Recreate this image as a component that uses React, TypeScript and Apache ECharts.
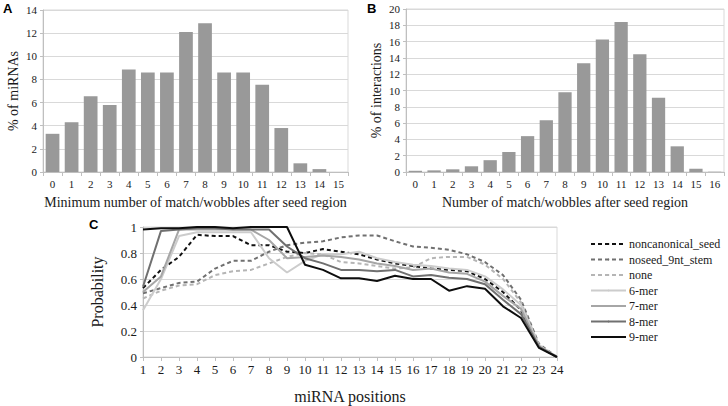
import React, { useEffect, useRef } from 'react';
import * as echarts from 'echarts';

const catsA = ['0', '1', '2', '3', '4', '5', '6', '7', '8', '9', '10', '11', '12', '13', '14', '15'];
const valuesA = [3.3, 4.3, 6.55, 5.8, 8.85, 8.6, 8.6, 12.1, 12.85, 8.6, 8.6, 7.55, 3.8, 0.75, 0.25, 0];

const catsB = ['0', '1', '2', '3', '4', '5', '6', '7', '8', '9', '10', '11', '12', '13', '14', '15', '16'];
const valuesB = [0.15, 0.2, 0.33, 0.7, 1.45, 2.45, 4.4, 6.35, 9.8, 13.35, 16.25, 18.4, 14.45, 9.1, 3.15, 0.4, 0.03];

const positions = ['1', '2', '3', '4', '5', '6', '7', '8', '9', '10', '11', '12', '13', '14', '15', '16', '17', '18', '19', '20', '21', '22', '23', '24'];
const noncanonicalSeed = [0.53, 0.67, 0.77, 0.94, 0.93, 0.93, 0.86, 0.86, 0.81, 0.8, 0.83, 0.81, 0.79, 0.75, 0.72, 0.7, 0.68, 0.67, 0.66, 0.6, 0.5, 0.36, 0.08, 0.0];
const noseed9ntStem = [0.49, 0.53, 0.57, 0.58, 0.68, 0.74, 0.74, 0.81, 0.86, 0.88, 0.89, 0.92, 0.935, 0.935, 0.89, 0.85, 0.84, 0.825, 0.79, 0.73, 0.63, 0.44, 0.1, 0.0];
const none = [0.45, 0.51, 0.55, 0.56, 0.63, 0.66, 0.67, 0.72, 0.77, 0.8, 0.79, 0.73, 0.72, 0.7, 0.68, 0.69, 0.76, 0.77, 0.77, 0.71, 0.6, 0.42, 0.09, 0.0];
const mer6 = [0.36, 0.6, 0.93, 0.96, 0.96, 0.96, 0.96, 0.76, 0.65, 0.74, 0.79, 0.79, 0.81, 0.76, 0.73, 0.71, 0.7, 0.68, 0.67, 0.62, 0.52, 0.4, 0.09, 0.0];
const mer7 = [0.5, 0.62, 0.98, 0.98, 0.98, 0.98, 0.98, 0.9, 0.76, 0.77, 0.78, 0.77, 0.75, 0.72, 0.7, 0.67, 0.68, 0.65, 0.64, 0.58, 0.47, 0.37, 0.08, 0.0];
const mer8 = [0.54, 0.97, 0.98, 0.99, 0.99, 0.98, 0.98, 0.98, 0.85, 0.76, 0.72, 0.67, 0.67, 0.66, 0.67, 0.62, 0.63, 0.61, 0.6, 0.56, 0.44, 0.33, 0.08, 0.0];
const mer9 = [0.98, 0.99, 0.99, 1.0, 1.0, 0.99, 1.0, 1.0, 1.0, 0.71, 0.67, 0.605, 0.605, 0.585, 0.625, 0.6, 0.6, 0.51, 0.545, 0.525, 0.39, 0.3, 0.07, 0.0];

const SERIF = 'Liberation Serif';
const SANS = 'Liberation Sans';
const AXIS_COLOR = '#bfbfbf';
const GRID_COLOR = '#d9d9d9';
const TEXT_COLOR = '#1a1a1a';

const lineDefs = [
  { name: 'noncanonical_seed', data: noncanonicalSeed, color: '#111111', type: [4, 3] as any, width: 2 },
  { name: 'noseed_9nt_stem', data: noseed9ntStem, color: '#707070', type: [4, 3] as any, width: 2 },
  { name: 'none', data: none, color: '#b5b5b5', type: [4, 3] as any, width: 2 },
  { name: '6-mer', data: mer6, color: '#cccccc', type: 'solid', width: 2 },
  { name: '7-mer', data: mer7, color: '#a6a6a6', type: 'solid', width: 2 },
  { name: '8-mer', data: mer8, color: '#707070', type: 'solid', width: 2 },
  { name: '9-mer', data: mer9, color: '#0d0d0d', type: 'solid', width: 2 },
];

function catAxis(idx: number, data: string[], name: string, fontSize: number, nameSize: number, nameGap: number, boundaryGap: boolean) {
  return {
    type: 'category',
    gridIndex: idx,
    data,
    boundaryGap,
    name,
    nameLocation: 'middle',
    nameGap,
    nameTextStyle: { fontFamily: SERIF, fontSize: nameSize, color: TEXT_COLOR },
    axisLine: { lineStyle: { color: AXIS_COLOR, width: 1 } },
    axisTick: { show: true, length: 4, alignWithLabel: !boundaryGap, lineStyle: { color: AXIS_COLOR } },
    axisLabel: { fontFamily: SERIF, fontSize, color: TEXT_COLOR, margin: 6, interval: 0 },
    splitLine: { show: false },
  };
}

function valAxis(idx: number, max: number, interval: number, name: string, fontSize: number, nameSize: number, nameGap: number) {
  return {
    type: 'value',
    gridIndex: idx,
    min: 0,
    max,
    interval,
    name,
    nameLocation: 'middle',
    nameGap,
    nameTextStyle: { fontFamily: SERIF, fontSize: nameSize, color: TEXT_COLOR },
    axisLine: { show: true, lineStyle: { color: AXIS_COLOR, width: 1 } },
    axisTick: { show: true, length: 3, lineStyle: { color: AXIS_COLOR } },
    axisLabel: { fontFamily: SERIF, fontSize, color: TEXT_COLOR, margin: 6 },
    splitLine: { show: true, lineStyle: { color: GRID_COLOR, width: 1 } },
  };
}

export default function App() {
  const ref = useRef<HTMLDivElement>(null);
  useEffect(() => {
    if (!ref.current) return;
    const chart = echarts.init(ref.current, null, { renderer: 'svg' });
    const gridBase = { show: true, borderColor: GRID_COLOR, borderWidth: 1, backgroundColor: 'transparent', containLabel: false, outerBoundsMode: 'none' };
    const option: any = {
      animation: false,
      backgroundColor: '#ffffff',
      textStyle: { fontFamily: SERIF },
      grid: [
        { ...gridBase, left: 43, top: 10, width: 305, height: 162 },
        { ...gridBase, left: 406, top: 9, width: 318, height: 163 },
        { ...gridBase, left: 143, top: 227, width: 414, height: 130 },
      ],
      xAxis: [
        catAxis(0, catsA, 'Minimum number of match/wobbles after seed region', 11, 14, 23, true),
        catAxis(1, catsB, 'Number of match/wobbles after seed region', 11, 14, 23, true),
        catAxis(2, positions, 'miRNA positions', 13, 16, 31, false),
      ],
      yAxis: [
        valAxis(0, 14, 2, '% of miRNAs', 11, 14, 23),
        valAxis(1, 20, 2, '% of interactions', 11, 14, 23),
        valAxis(2, 1, 0.2, 'Probability', 13, 16, 38),
      ],
      legend: {
        orient: 'vertical',
        left: 585,
        top: 233,
        itemWidth: 35,
        itemHeight: 2,
        itemGap: 3.5,
        textStyle: { fontFamily: SERIF, fontSize: 12, color: TEXT_COLOR, padding: [0, 0, 0, -2] },
        data: lineDefs.map((d) => d.name),
      },
      graphic: [
        { type: 'text', left: 3, top: 2, style: { text: 'A', font: `bold 13px ${SANS}`, fill: '#000' } },
        { type: 'text', left: 367, top: 2, style: { text: 'B', font: `bold 13px ${SANS}`, fill: '#000' } },
        { type: 'text', left: 89, top: 218, style: { text: 'C', font: `bold 13px ${SANS}`, fill: '#000' } },
      ],
      series: [
        { type: 'bar', xAxisIndex: 0, yAxisIndex: 0, data: valuesA, barWidth: '72%', itemStyle: { color: '#999999' } },
        { type: 'bar', xAxisIndex: 1, yAxisIndex: 1, data: valuesB, barWidth: '71%', itemStyle: { color: '#999999' } },
        ...lineDefs.map((d) => ({
          type: 'line',
          name: d.name,
          xAxisIndex: 2,
          yAxisIndex: 2,
          data: d.data,
          symbol: 'none',
          showSymbol: false,
          lineStyle: { color: d.color, width: d.width, type: d.type },
          itemStyle: { color: d.color },
        })),
      ],
    };
    chart.setOption(option);
    return () => chart.dispose();
  }, []);
  return <div ref={ref} style={{ position: 'absolute', left: 0, top: 0, width: 728, height: 406 }} />;
}
